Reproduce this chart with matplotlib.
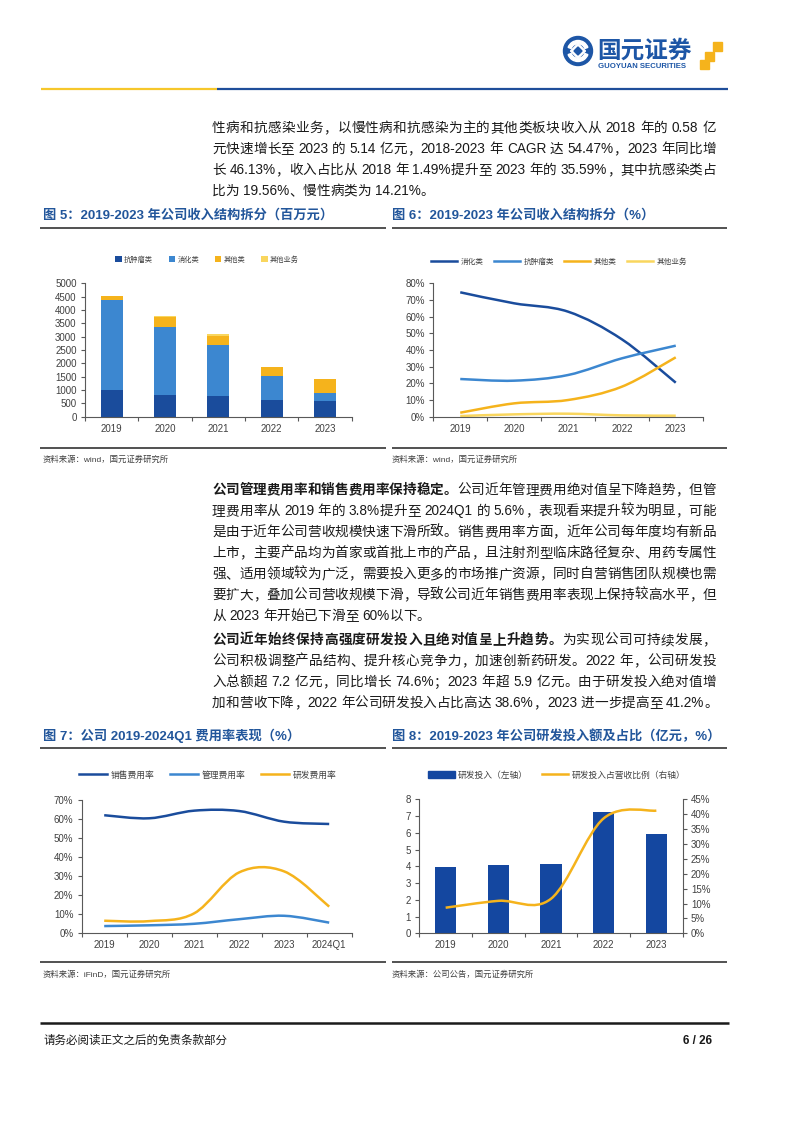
import re
import numpy as np
import matplotlib
matplotlib.use('Agg')
import matplotlib.pyplot as plt
from matplotlib.path import Path
from matplotlib.patches import PathPatch, Rectangle, Circle, Wedge, Polygon
from matplotlib.lines import Line2D

plt.rcParams['font.family'] = ['Liberation Sans', 'Noto Sans CJK SC']

# ---- 数据 ----
years5 = ['2019', '2020', '2021', '2022', '2023']
years6 = ['2019', '2020', '2021', '2022', '2023', '2024Q1']

# 图5 收入结构（百万元）
rev_tumor = [1010, 810, 770, 630, 600]
rev_digest = [3350, 2570, 1930, 880, 300]
rev_other = [150, 340, 330, 340, 514]
rev_misc = [20, 60, 70, 20, 12]
rev_names = ['抗肿瘤类', '消化类', '其他类', '其他业务']

# 图6 收入结构（%）
share_digest = [74.6, 68.0, 63.0, 46.4, 20.4]
share_tumor = [22.6, 21.6, 25.0, 35.0, 42.6]
share_other = [2.4, 8.0, 10.0, 18.0, 35.6]
share_misc = [0.4, 1.4, 1.8, 0.8, 0.6]
share_names = ['消化类', '抗肿瘤类', '其他类', '其他业务']

# 图7 费用率（%）
sales_ratio = [62.0, 60.4, 64.4, 64.2, 58.6, 57.4]
admin_ratio = [3.8, 4.2, 5.0, 7.4, 9.2, 5.6]
rd_ratio = [6.6, 6.4, 10.5, 32.0, 32.5, 14.0]
ratio_names = ['销售费用率', '管理费用率', '研发费用率']

# 图8 研发投入（亿元）及占比（%）
rd_spend = [3.94, 4.08, 4.14, 7.26, 5.95]
rd_share = [8.6, 10.9, 11.6, 38.6, 41.2]
rd_names = ['研发投入（左轴）', '研发投入占营收比例（右轴）']

DARK = '#1A4C9C'
LIGHT = '#3C87D0'
ORANGE = '#F5B31C'
PALE = '#F9D65E'
TITLE = '#22569B'
GRAY = '#404040'
TICK_FS = 7

W, H = 802, 1133
fig = plt.figure(figsize=(W / 100, H / 100), dpi=100)
bg = fig.add_axes([0, 0, 1, 1])
bg.set_xlim(0, W)
bg.set_ylim(H, 0)
bg.axis('off')
renderer = fig.canvas.get_renderer()


def add_ax(l, t, r, b):
    return fig.add_axes([l / W, 1 - b / H, (r - l) / W, (b - t) / H])


def smooth(xs, ys):
    # Excel 风格平滑线（Catmull-Rom -> Bezier）
    n = len(xs)
    verts = [(xs[0], ys[0])]
    codes = [Path.MOVETO]
    for i in range(n - 1):
        a = max(i - 1, 0)
        d = min(i + 2, n - 1)
        c1 = (xs[i] + (xs[i + 1] - xs[a]) / 6, ys[i] + (ys[i + 1] - ys[a]) / 6)
        c2 = (xs[i + 1] - (xs[d] - xs[i]) / 6, ys[i + 1] - (ys[d] - ys[i]) / 6)
        verts += [c1, c2, (xs[i + 1], ys[i + 1])]
        codes += [Path.CURVE4] * 3
    return Path(verts, codes)


def curve(ax, ys, color, lw=1.8):
    p = smooth(list(range(len(ys))), ys)
    ax.add_patch(PathPatch(p, facecolor='none', edgecolor=color, lw=lw, capstyle='butt'))


def style(ax, n, labels):
    for s in ['top', 'right']:
        ax.spines[s].set_visible(False)
    for s in ['left', 'bottom']:
        ax.spines[s].set_color('#595959')
        ax.spines[s].set_linewidth(0.8)
    ax.set_xlim(-0.5, n - 0.5)
    ax.set_xticks(range(n))
    ax.set_xticklabels(labels)
    ax.set_xticks(np.arange(-0.5, n, 1), minor=True)
    ax.tick_params(axis='x', which='major', length=0, pad=5, labelsize=TICK_FS, labelcolor=GRAY)
    ax.tick_params(axis='x', which='minor', length=3, direction='out', color='#595959', width=0.8)
    ax.tick_params(axis='y', length=3, direction='out', color='#595959', width=0.8,
                   labelsize=TICK_FS, labelcolor=GRAY, pad=3)
    ax.patch.set_alpha(0)


def hline(x0, x1, y, color, lw):
    bg.plot([x0, x1], [y, y], color=color, lw=lw, solid_capstyle='butt')


# ---- 文字排版（两端对齐）----
FS = 9.8


def put_line(y, segs, x0=212, x1=716, justify=True):
    items = []
    for text, bold in segs:
        for tok in re.findall(r'[A-Za-z0-9.%\-]+| |.', text):
            items.append((tok, bold))
    sp = 0.27 * FS * 100 / 72
    objs, widths = [], []
    for tok, bold in items:
        if tok == ' ':
            objs.append(None)
            widths.append(sp)
            continue
        t = bg.text(0, y, tok, fontsize=FS, fontweight='bold' if bold else 'normal',
                    color='#1a1a1a', va='baseline', ha='left')
        objs.append(t)
        widths.append(t.get_window_extent(renderer).width)
    extra = 0
    if justify and len(items) > 1:
        extra = (x1 - x0 - sum(widths)) / (len(items) - 1)
    x = x0
    for t, w in zip(objs, widths):
        if t is not None:
            t.set_x(x)
        x += w + extra


def paragraph(y0, lines, bold_lead=None):
    for i, ln in enumerate(lines):
        segs = [(ln, False)]
        if i == 0 and bold_lead:
            segs = [(bold_lead, True), (ln, False)]
        put_line(y0 + i * 21, segs, justify=(i < len(lines) - 1))


# ---- 页眉 ----
bg.add_patch(Circle((578, 51), 14.5, color='#1D56A6'))
bg.add_patch(Wedge((578, 51), 10.5, 200, 340, width=3.2, color='white'))
bg.add_patch(Wedge((578, 51), 10.5, 20, 160, width=3.2, color='white'))
bg.add_patch(Polygon([(578, 43.5), (585.5, 51), (578, 58.5), (570.5, 51)], color='white'))
bg.add_patch(Polygon([(578, 47), (582, 51), (578, 55), (574, 51)], color='#1D56A6'))
bg.text(597, 51, '国元证券', fontsize=17, fontweight='bold', color='#1D56A6', va='center', ha='left',
        family=['Noto Sans CJK SC'])
bg.text(598, 67, 'GUOYUAN SECURITIES', fontsize=5.6, fontweight='bold', color='#1D56A6',
        va='center', ha='left')
for (sx, sy, s) in [(713, 42, 9), (705, 52, 8.5), (700, 60, 8.5)]:
    bg.add_patch(Rectangle((sx, sy), s, s, color=ORANGE))
hline(41, 217, 89, '#F6C72B', 1.6)
hline(217, 728, 89, '#1F4E9A', 1.6)

# ---- 第一段 ----
paragraph(132, [
    '性病和抗感染业务，以慢性病和抗感染为主的其他类板块收入从 2018 年的 0.58 亿',
    '元快速增长至 2023 的 5.14 亿元，2018-2023 年 CAGR 达 54.47%，2023 年同比增',
    '长 46.13%，收入占比从 2018 年 1.49%提升至 2023 年的 35.59%，其中抗感染类占',
    '比为 19.56%、慢性病类为 14.21%。',
])

# ---- 图5/图6 标题 ----
bg.text(43, 215, '图 5：2019-2023 年公司收入结构拆分（百万元）', fontsize=9.5, fontweight='bold',
        color=TITLE, va='center')
bg.text(392, 215, '图 6：2019-2023 年公司收入结构拆分（%）', fontsize=9.5, fontweight='bold',
        color=TITLE, va='center')
hline(40, 386, 228, '#333333', 1.2)
hline(392, 727, 228, '#333333', 1.2)

# ---- 图5 ----
ax5 = add_ax(85, 283.3, 351.7, 416.7)
x = np.arange(len(years5))
bottom = np.zeros(len(years5))
cols5 = [DARK, LIGHT, ORANGE, PALE]
for vals, c, nm in zip([rev_tumor, rev_digest, rev_other, rev_misc], cols5, rev_names):
    ax5.bar(x, vals, 0.41, bottom=bottom, color=c, label=nm)
    bottom += np.array(vals)
ax5.set_ylim(0, 5000)
ax5.set_yticks(range(0, 5001, 500))
style(ax5, 5, years5)
fig.legend(*ax5.get_legend_handles_labels(), loc='center', bbox_to_anchor=(207 / W, 1 - 260 / H),
           ncol=4, frameon=False, fontsize=5.2, labelcolor=GRAY, handlelength=0.9, handleheight=0.9,
           handletextpad=0.3, columnspacing=2.2)

# ---- 图6 ----
ax6 = add_ax(433.3, 283.3, 702.7, 416.7)
cols6 = [DARK, LIGHT, ORANGE, PALE]
for vals, c in zip([share_digest, share_tumor, share_other, share_misc], cols6):
    curve(ax6, vals, c)
ax6.set_ylim(0, 80)
ax6.set_yticks(range(0, 81, 10))
ax6.set_yticklabels([f'{v}%' for v in range(0, 81, 10)])
style(ax6, 5, years5)
h6 = [Line2D([], [], color=c, lw=1.8) for c in cols6]
fig.legend(h6, share_names, loc='center', bbox_to_anchor=(559 / W, 1 - 262 / H), ncol=4,
           frameon=False, fontsize=5.5, labelcolor=GRAY, handlelength=3.4, handletextpad=0.5,
           columnspacing=1.3)

# ---- 资料来源 ----
hline(40, 386, 448, '#333333', 1.2)
hline(392, 727, 448, '#333333', 1.2)
bg.text(43, 460, '资料来源：wind，国元证券研究所', fontsize=6, color=GRAY, va='center')
bg.text(392, 460, '资料来源：wind，国元证券研究所', fontsize=6, color=GRAY, va='center')

# ---- 第二、三段 ----
paragraph(494, [
    '公司近年管理费用绝对值呈下降趋势，但管',
    '理费用率从 2019 年的 3.8%提升至 2024Q1 的 5.6%，表现看来提升较为明显，可能',
    '是由于近年公司营收规模快速下滑所致。销售费用率方面，近年公司每年度均有新品',
    '上市，主要产品均为首家或首批上市的产品，且注射剂型临床路径复杂、用药专属性',
    '强、适用领域较为广泛，需要投入更多的市场推广资源，同时自营销售团队规模也需',
    '要扩大，叠加公司营收规模下滑，导致公司近年销售费用率表现上保持较高水平，但',
    '从 2023 年开始已下滑至 60%以下。',
], bold_lead='公司管理费用率和销售费用率保持稳定。')
paragraph(644, [
    '为实现公司可持续发展，',
    '公司积极调整产品结构、提升核心竞争力，加速创新药研发。2022 年，公司研发投',
    '入总额超 7.2 亿元，同比增长 74.6%；2023 年超 5.9 亿元。由于研发投入绝对值增',
    '加和营收下降，2022 年公司研发投入占比高达 38.6%，2023 进一步提高至 41.2%。',
], bold_lead='公司近年始终保持高强度研发投入且绝对值呈上升趋势。')

# ---- 图7/图8 标题 ----
bg.text(43, 736, '图 7：公司 2019-2024Q1 费用率表现（%）', fontsize=9.5, fontweight='bold',
        color=TITLE, va='center')
bg.text(392, 736, '图 8：2019-2023 年公司研发投入额及占比（亿元，%）', fontsize=9.5, fontweight='bold',
        color=TITLE, va='center')
hline(40, 386, 748, '#333333', 1.2)
hline(392, 727, 748, '#333333', 1.2)

# ---- 图7 ----
ax7 = add_ax(81.7, 800, 351.7, 933.3)
cols7 = [DARK, LIGHT, ORANGE]
for vals, c in zip([sales_ratio, admin_ratio, rd_ratio], cols7):
    curve(ax7, vals, c)
ax7.set_ylim(0, 70)
ax7.set_yticks(range(0, 71, 10))
ax7.set_yticklabels([f'{v}%' for v in range(0, 71, 10)])
style(ax7, 6, years6)
h7 = [Line2D([], [], color=c, lw=1.8) for c in cols7]
fig.legend(h7, ratio_names, loc='center', bbox_to_anchor=(208 / W, 1 - 775 / H), ncol=3,
           frameon=False, fontsize=6.3, labelcolor=GRAY, handlelength=3.2, handletextpad=0.4,
           columnspacing=1.8)

# ---- 图8 ----
ax8 = add_ax(419.3, 799.3, 682.7, 933.3)
ax8.bar(np.arange(len(years5)), rd_spend, 0.41, color='#1447A0')
ax8.set_ylim(0, 8)
ax8.set_yticks(range(0, 9))
style(ax8, 5, years5)
ax8r = ax8.twinx()
curve(ax8r, rd_share, ORANGE)
ax8r.set_ylim(0, 45)
ax8r.set_yticks(range(0, 46, 5))
ax8r.set_yticklabels([f'{v}%' for v in range(0, 46, 5)])
for s in ['top', 'left', 'bottom']:
    ax8r.spines[s].set_visible(False)
ax8r.spines['right'].set_color('#595959')
ax8r.spines['right'].set_linewidth(0.8)
ax8r.tick_params(axis='y', length=3, direction='out', color='#595959', width=0.8,
                 labelsize=TICK_FS, labelcolor=GRAY, pad=3)
h8 = [Rectangle((0, 0), 1, 1, color='#1447A0'), Line2D([], [], color=ORANGE, lw=1.8)]
fig.legend(h8, rd_names, loc='center', bbox_to_anchor=(557 / W, 1 - 775 / H), ncol=2,
           frameon=False, fontsize=6.3, labelcolor=GRAY, handlelength=3.0, handleheight=0.7,
           handletextpad=0.4, columnspacing=1.6)

# ---- 资料来源 ----
hline(40, 386, 962, '#333333', 1.2)
hline(392, 727, 962, '#333333', 1.2)
bg.text(43, 975, '资料来源：iFinD，国元证券研究所', fontsize=6, color=GRAY, va='center')
bg.text(392, 975, '资料来源：公司公告，国元证券研究所', fontsize=6, color=GRAY, va='center')

# ---- 页脚 ----
hline(40, 729, 1023, '#1a1a1a', 1.8)
bg.text(43, 1041, '请务必阅读正文之后的免责条款部分', fontsize=8.3, color='#1a1a1a', va='center')
bg.text(712, 1041, '6 / 26', fontsize=8.5, fontweight='bold', color='#1a1a1a', va='center', ha='right')

fig.savefig('out.png', dpi=100)
